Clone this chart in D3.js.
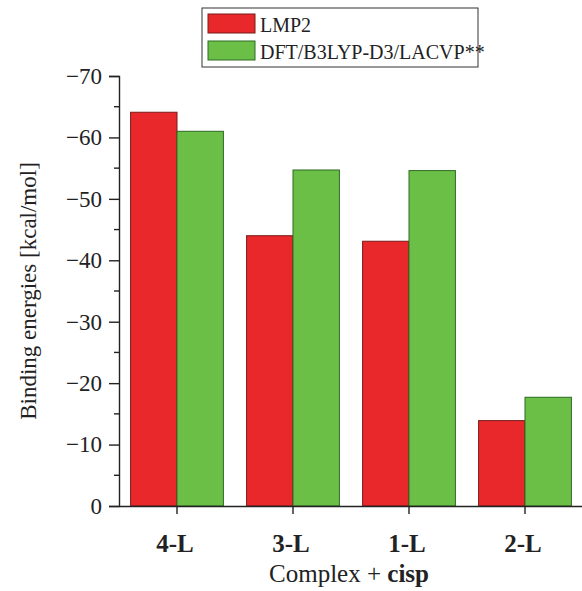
<!DOCTYPE html>
<html>
<head>
<meta charset="utf-8">
<script src="https://cdn.jsdelivr.net/npm/d3@7"></script>
<style>
  body { margin: 0; background: #fff; }
  svg { font-family: "Liberation Serif", "Times New Roman", serif; }
</style>
</head>
<body>
<svg width="582" height="591"></svg>
<script>
// Données
const categories = ["4-L", "3-L", "1-L", "2-L"];
const series = ["LMP2", "DFT/B3LYP-D3/LACVP**"];
const lmp2 = [-64.1, -44.0, -43.1, -13.9];
const dft = [-61.0, -54.7, -54.6, -17.7];
const yTicks = [0, -10, -20, -30, -40, -50, -60, -70];
const colors = ["#e8282b", "#6cbf46"];
const strokes = ["#7a1a1a", "#2d6a22"];

const svg = d3.select("svg");
const margin = { top: 76, right: -1, bottom: 85, left: 119 };
const width = 582, height = 591;

const x = d3.scaleBand().domain(categories)
    .range([margin.left, width - margin.right])
    .paddingInner(0.2).paddingOuter(0.1);
const xs = d3.scaleBand().domain(series).range([0, x.bandwidth()]);
const y = d3.scaleLinear().domain([0, -70]).range([height - margin.bottom, margin.top]);

// Barres
const values = [lmp2, dft];
series.forEach((s, si) => {
    svg.append("g").selectAll("rect")
        .data(categories.map((c, i) => ({ c, v: values[si][i] })))
        .enter().append("rect")
        .attr("x", d => x(d.c) + xs(s))
        .attr("y", d => y(d.v))
        .attr("width", xs.bandwidth())
        .attr("height", d => y(0) - y(d.v))
        .attr("fill", colors[si])
        .attr("stroke", strokes[si])
        .attr("stroke-width", 1);
});

// Axe Y
const yAxis = svg.append("g")
    .attr("transform", "translate(" + margin.left + ",0)")
    .call(d3.axisLeft(y).tickValues(yTicks).tickSize(10).tickPadding(7)
        .tickFormat(d => d === 0 ? "0" : "\u2212" + Math.abs(d)));
yAxis.select(".domain").attr("stroke", "#222").attr("stroke-width", 1.4);
yAxis.selectAll(".tick line").attr("stroke", "#222").attr("stroke-width", 1.4);
yAxis.selectAll("text").attr("font-size", 23).attr("fill", "#222")
    .style("font-family", "Liberation Serif, serif");

// Petites graduations
svg.append("g").selectAll("line")
    .data(d3.range(-5, -70, -10))
    .enter().append("line")
    .attr("x1", margin.left - 5).attr("x2", margin.left)
    .attr("y1", d => y(d)).attr("y2", d => y(d))
    .attr("stroke", "#222").attr("stroke-width", 1.4);

// Axe X
const xAxis = svg.append("g")
    .attr("transform", "translate(0," + y(0) + ")")
    .call(d3.axisBottom(x).tickSize(8).tickPadding(20).tickSizeOuter(0));
xAxis.select(".domain").attr("stroke", "#222").attr("stroke-width", 1.4);
xAxis.selectAll(".tick line").attr("stroke", "#222").attr("stroke-width", 1.4);
xAxis.selectAll("text").attr("font-size", 25).attr("font-weight", "bold").attr("fill", "#222")
    .attr("dx", -2)
    .style("font-family", "Liberation Serif, serif");

// Titres des axes
svg.append("text")
    .attr("transform", "translate(36," + (margin.top + (height - margin.bottom - margin.top) / 2) + ") rotate(-90)")
    .attr("text-anchor", "middle")
    .attr("font-size", 23).attr("fill", "#222")
    .text("Binding energies [kcal/mol]");

const xt = svg.append("text")
    .attr("x", 349).attr("y", 582)
    .attr("text-anchor", "middle")
    .attr("font-size", 25).attr("fill", "#222");
xt.append("tspan").text("Complex + ");
xt.append("tspan").attr("font-weight", "bold").text("cisp");

// Légende
const legend = svg.append("g");
legend.append("rect")
    .attr("x", 202).attr("y", 8).attr("width", 276).attr("height", 59)
    .attr("fill", "#fff").attr("stroke", "#333").attr("stroke-width", 1);
series.forEach((s, i) => {
    legend.append("rect")
        .attr("x", 208).attr("y", 14 + i * 27).attr("width", 47).attr("height", 19)
        .attr("fill", colors[i]).attr("stroke", strokes[i]);
    legend.append("text")
        .attr("x", 260).attr("y", 32 + i * 27)
        .attr("font-size", 20).attr("fill", "#222")
        .text(s);
});
</script>
</body>
</html>
